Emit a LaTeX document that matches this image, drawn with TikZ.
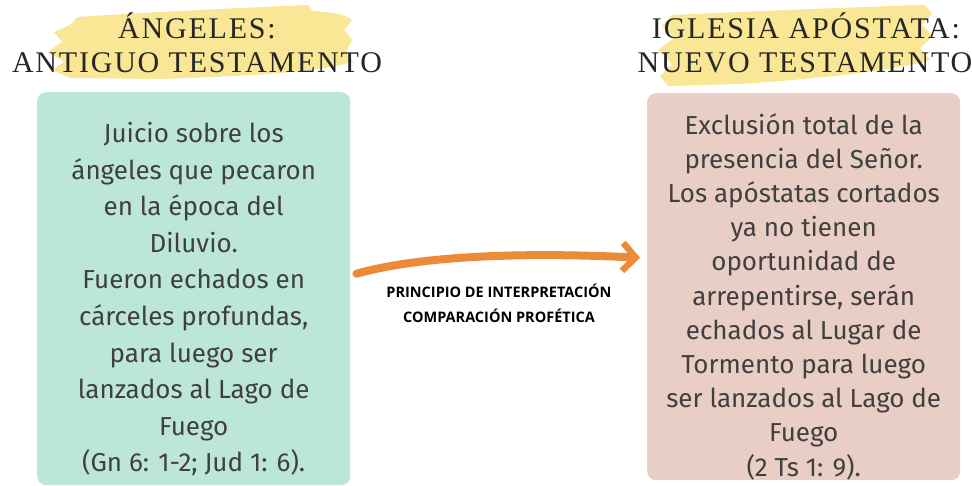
\documentclass[tikz,border=0pt]{standalone}
\usepackage{fontspec}
\setmainfont{Fira Sans}
\newfontfamily\headfont[LetterSpace=6]{Liberation Serif}
\newfontfamily\labfont{Open Sans}
\usetikzlibrary{arrows.meta}
\definecolor{tealbox}{HTML}{BDE6DB}
\definecolor{rosebox}{HTML}{E8CEC4}
\definecolor{txtgray}{HTML}{404040}
\definecolor{brush}{HTML}{F9E795}
\definecolor{orangearr}{HTML}{EC8A37}
\tikzset{
  box/.style={draw=none, rounded corners=9pt, inner sep=0pt},
  bodytxt/.style={align=center, text=txtgray, font=\fontsize{26}{36.6}\selectfont, inner sep=0pt},
  headtxt/.style={text=black!85, font=\headfont\fontsize{30}{34}\selectfont, inner sep=0pt, anchor=base},
  labtxt/.style={align=center, text=black, font=\labfont\bfseries\fontsize{14.5}{25}\selectfont, inner sep=0pt},
  brushfill/.style={fill=brush, draw=none}
}
\begin{document}
\begin{tikzpicture}[x=1pt,y=-1pt]
\useasboundingbox (0,0) rectangle (972,486);
\fill[white] (0,0) rectangle (972,486);
% yellow brush strokes
\path[brushfill] (78,17) .. controls (150,12) and (240,8) .. (308,5) -- (312,11)
  .. controls (330,12) and (345,14) .. (352,20) -- (344,30) -- (352,40) -- (346,52) -- (353,62)
  .. controls (320,72) and (250,76) .. (160,79) -- (70,78) -- (52,70) -- (64,62) -- (48,52) -- (62,42) -- (54,32) -- (70,25) -- cycle;
\path[brushfill] (672,15) .. controls (760,11) and (860,7) .. (925,5) -- (932,14) -- (922,25) -- (933,36) -- (920,48) -- (930,60)
  .. controls (890,72) and (800,80) .. (740,84) -- (668,86) -- (660,76) -- (672,64) -- (658,50) -- (674,38) -- (662,26) -- cycle;
% headings
\node[headtxt] (lhead1) at (197,39) {ÁNGELES:};
\node[headtxt] (lhead2) at (197,73) {ANTIGUO TESTAMENTO};
\node[headtxt] (rhead1) at (806,39) {IGLESIA APÓSTATA:};
\node[headtxt] (rhead2) at (805,73) {NUEVO TESTAMENTO};
% boxes
\node[box, fill=tealbox, minimum width=313pt, minimum height=393pt, anchor=north west] (lbox) at (37,92) {};
\node[box, fill=rosebox, minimum width=313pt, minimum height=387pt, anchor=north west] (rbox) at (647,93) {};
% texts
\node[bodytxt, anchor=north] (ltext) at ([yshift=-30pt]lbox.north) {Juicio sobre los\\ángeles que pecaron\\en la época del\\Diluvio.\\Fueron echados en\\cárceles profundas,\\para luego ser\\lanzados al Lago de\\Fuego\\(Gn 6: 1-2; Jud 1: 6).};
\node[bodytxt, anchor=north, font=\fontsize{26}{34.2}\selectfont] (rtext) at ([yshift=-20pt]rbox.north) {Exclusión total de la\\presencia del Señor.\\Los apóstatas cortados\\ya no tienen\\oportunidad de\\arrepentirse, serán\\echados al Lugar de\\Tormento para luego\\ser lanzados al Lago de\\Fuego\\(2 Ts 1: 9).};
% arrow
\coordinate (atail) at ([xshift=6pt,yshift=15pt]lbox.east);
\coordinate (ahead) at ([xshift=-7pt,yshift=29pt]rbox.west);
\draw[orangearr, line width=8pt, line cap=round, -{Straight Barb[length=13pt,width=28pt,line width=6.5pt]}]
  (atail) .. controls (420,256) and (520,252) .. (ahead);
\node[labtxt] (lab) at (499,303) {PRINCIPIO DE INTERPRETACIÓN\\COMPARACIÓN PROFÉTICA};
\end{tikzpicture}
\end{document}
